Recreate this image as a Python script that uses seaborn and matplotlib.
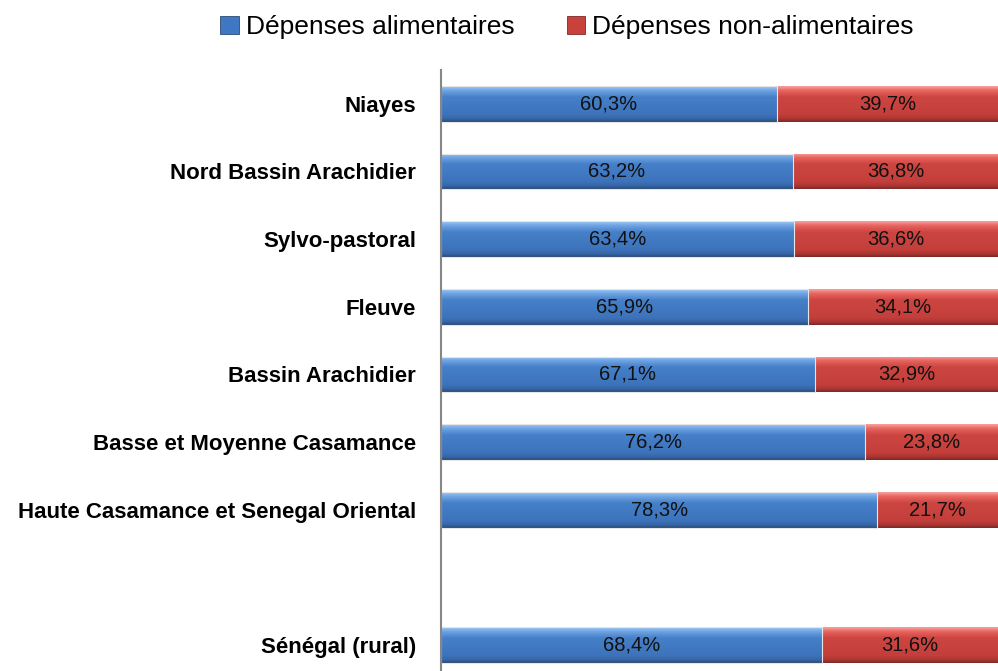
import numpy as np
import pandas as pd
import matplotlib
matplotlib.use("Agg")
import matplotlib.pyplot as plt
import seaborn as sns
from matplotlib.colors import LinearSegmentedColormap
from matplotlib.patches import Patch

# ----------------------------------------
# Data
# ----------------------------------------

regions = [
    "Niayes",
    "Nord Bassin Arachidier",
    "Sylvo-pastoral",
    "Fleuve",
    "Bassin Arachidier",
    "Basse et Moyenne Casamance",
    "Haute Casamance et Senegal Oriental",
    "Sénégal (rural)",
]
food = [60.3, 63.2, 63.4, 65.9, 67.1, 76.2, 78.3, 68.4]
non_food = [39.7, 36.8, 36.6, 34.1, 32.9, 23.8, 21.7, 31.6]

# blank slot between the regions and the national figure
order = regions[:7] + [" "] + regions[7:]

df = pd.DataFrame({"region": regions, "food": food, "non_food": non_food})
df["total"] = df["food"] + df["non_food"]

# ----------------------------------------
# Style
# ----------------------------------------

sns.set_style("white")
plt.rcParams["font.family"] = ["Liberation Sans", "DejaVu Sans"]
plt.rcParams["text.color"] = "black"
plt.rcParams["ytick.color"] = "black"

blue = "#3F77C2"
red = "#C8413D"
blue_cmap = LinearSegmentedColormap.from_list(
    "b", [(0, "#9CC8F5"), (0.12, "#6EA3E2"), (0.3, "#4580C9"),
          (0.8, "#3D73BB"), (0.92, "#3565A6"), (1, "#2B4A75")])
red_cmap = LinearSegmentedColormap.from_list(
    "r", [(0, "#F7A09B"), (0.12, "#E8645E"), (0.3, "#CC4541"),
          (0.8, "#C43F3B"), (0.92, "#A93531"), (1, "#7C2B29")])

fig = plt.figure(figsize=(9.98, 6.71), dpi=100)
ax = fig.add_axes([0.4419, -0.0119, 0.5581, 0.9076])

# ----------------------------------------
# Stacked bars (total in red, food on top in blue)
# ----------------------------------------

sns.barplot(data=df, y="region", x="total", order=order, color=red,
            width=0.53, orient="h", ax=ax)
n_red = len(ax.patches)
sns.barplot(data=df, y="region", x="food", order=order, color=blue,
            width=0.53, orient="h", ax=ax)

grad = np.linspace(0, 1, 64).reshape(-1, 1)
for i, p in enumerate(ax.patches):
    w = p.get_width()
    if not np.isfinite(w) or w == 0:
        continue
    x0, y0, h = p.get_x(), p.get_y(), p.get_height()
    cmap = red_cmap if i < n_red else blue_cmap
    z = 1 if i < n_red else 2
    im = ax.imshow(grad, extent=(x0, x0 + w, y0 + h, y0), origin="upper",
                   aspect="auto", cmap=cmap, zorder=z, interpolation="bilinear")
    im.set_clip_path(p)
    p.set_facecolor("none")
    p.set_edgecolor("#E6E6E6" if i >= n_red else "none")
    p.set_linewidth(0.8)
    p.set_zorder(3)

# value labels centred in each segment
for _, row in df.iterrows():
    yi = order.index(row["region"])
    ax.text(row["food"] / 2, yi, f"{row['food']:.1f}%".replace(".", ","),
            ha="center", va="center", fontsize=14.5, color="#111111", zorder=5)
    ax.text(row["food"] + row["non_food"] / 2, yi,
            f"{row['non_food']:.1f}%".replace(".", ","),
            ha="center", va="center", fontsize=14.5, color="#111111", zorder=5)

ax.set_xlim(0, 100)
ax.set_ylim(len(order) - 0.5, -0.5)
ax.set_xlabel("")
ax.set_ylabel("")
ax.set_xticks([])
ax.tick_params(axis="y", length=0, pad=18, labelsize=16, labelcolor="black")
for lbl in ax.get_yticklabels():
    lbl.set_fontweight("bold")
for s in ["top", "right", "bottom"]:
    ax.spines[s].set_visible(False)
ax.spines["left"].set_color("#868686")
ax.spines["left"].set_linewidth(1.5)
ax.spines["left"].set_zorder(6)

# ----------------------------------------
# Legend
# ----------------------------------------

handles = [
    Patch(facecolor=blue, edgecolor="#2B4A75", linewidth=0.6, label="Dépenses alimentaires"),
    Patch(facecolor=red, edgecolor="#7C2B29", linewidth=0.6, label="Dépenses non-alimentaires"),
]
leg = fig.legend(handles=handles, loc="center", bbox_to_anchor=(567 / 998, 1 - 27 / 671),
                 ncol=2, frameon=False, fontsize=19, handlelength=0.7, handleheight=0.7,
                 handletextpad=0.25, columnspacing=2.0)
for t in leg.get_texts():
    t.set_color("black")

fig.savefig("out.png", dpi=100)
